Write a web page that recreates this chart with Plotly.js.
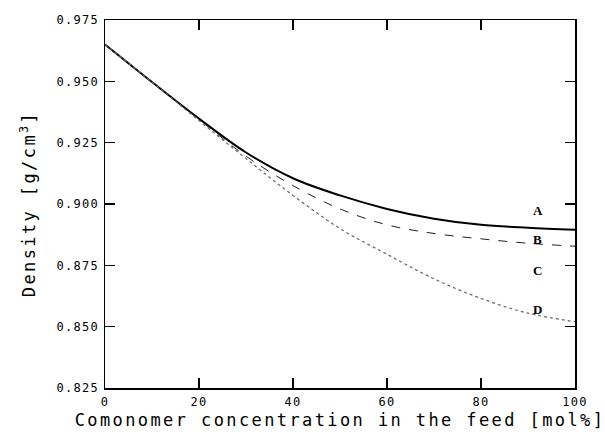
<!DOCTYPE html>
<html>
<head>
<meta charset="utf-8">
<script src="https://cdn.plot.ly/plotly-3.0.1.min.js"></script>
<style>
html,body{margin:0;padding:0;background:#fff;}
.xtitle, .ytitle {letter-spacing: 2.4px;}
.xtick text, .ytick text {letter-spacing: 1.3px;}
</style>
</head>
<body>
<div id="chart" style="width:605px;height:443px;"></div>
<script>
// Comonomer concentration in the feed [mol%]
var xFeed = [0, 10, 20, 30, 40, 50, 60, 70, 80, 90, 100];
// Density curves [g/cm3]
var densityA = [0.965, 0.9497, 0.9348, 0.921, 0.9105, 0.9035, 0.898, 0.894, 0.8915, 0.8903, 0.8895];
var densityB = [0.965, 0.9497, 0.9345, 0.9195, 0.9075, 0.898, 0.8915, 0.888, 0.8858, 0.884, 0.8828];
var densityD = [0.965, 0.9497, 0.934, 0.9185, 0.9035, 0.890, 0.8795, 0.8695, 0.8615, 0.8555, 0.852];
// Curve labels
var labelNames = ['A', 'B', 'C', 'D'];
var labelX = [92.1, 92.1, 92.1, 92.1];
var labelY = [0.8975, 0.8856, 0.873, 0.857];
var yTicks = [0.825, 0.850, 0.875, 0.900, 0.925, 0.950, 0.975];
var xTicks = [0, 20, 40, 60, 80, 100];

var traces = [
  {x: xFeed, y: densityA, mode: 'lines', line: {color: '#000', width: 2, shape: 'spline'}, name: 'A'},
  {x: xFeed, y: densityB, mode: 'lines', line: {color: '#222', width: 1, dash: 'dash', shape: 'spline'}, name: 'B'},
  {x: xFeed, y: densityD, mode: 'lines', line: {color: '#666', width: 1.2, dash: 'dot', shape: 'spline'}, name: 'D'}
];

var annotations = labelNames.map(function (n, i) {
  return {x: labelX[i], y: labelY[i], text: '<b>' + n + '</b>', showarrow: false,
    font: {family: 'Liberation Serif, serif', size: 13, color: '#000'}};
});

var axisFont = {family: 'DejaVu Sans Mono, monospace', size: 12, color: '#000'};
var titleFont = {family: 'DejaVu Sans Mono, monospace', size: 17, color: '#000'};
var layout = {
  width: 605, height: 443,
  margin: {l: 105, r: 30, t: 20, b: 55},
  paper_bgcolor: '#fff', plot_bgcolor: '#fff',
  showlegend: false,
  xaxis: {
    range: [0, 100], tickvals: xTicks, ticktext: xTicks.map(String),
    ticks: 'inside', ticklen: 10, tickwidth: 1.3, tickcolor: '#000',
    showline: true, linecolor: '#000', linewidth: 1.5, mirror: 'ticks',
    showgrid: false, zeroline: false, tickfont: axisFont, ticklabelstandoff: 2,
    title: {text: 'Comonomer concentration in the feed [mol%]', standoff: 6, font: titleFont}
  },
  yaxis: {
    range: [0.825, 0.975], tickvals: yTicks, ticktext: yTicks.map(function (v) { return v.toFixed(3); }),
    ticks: 'inside', ticklen: 10, tickwidth: 1.3, tickcolor: '#000',
    showline: true, linecolor: '#000', linewidth: 1.5, mirror: 'ticks',
    showgrid: false, zeroline: false, tickfont: axisFont, ticklabelstandoff: 2,
    title: {text: 'Density [g/cm<sup>3</sup>]', standoff: 16, font: titleFont}
  },
  annotations: annotations
};

Plotly.newPlot('chart', traces, layout, {displayModeBar: false, staticPlot: true});
</script>
</body>
</html>
